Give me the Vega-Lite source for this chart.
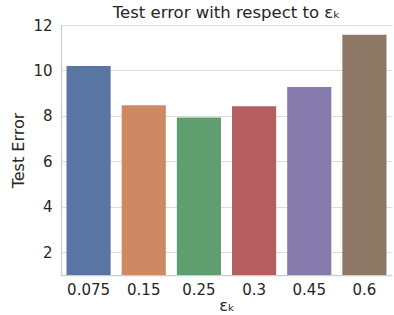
{
  "$schema": "https://vega.github.io/schema/vega-lite/v6.json",
  "autosize": {"type": "none"},
  "padding": {"left": 61, "top": 25, "right": 2, "bottom": 40},
  "width": 331,
  "height": 250,
  "background": "white",
  "title": {
    "text": "Test error with respect to εₖ",
    "font": "DejaVu Sans",
    "fontSize": 16.5,
    "fontWeight": "normal",
    "color": "#262626",
    "frame": "group",
    "offset": -3
  },
  "data": {
    "values": [
      {"eps": "0.075", "err": 10.2},
      {"eps": "0.15", "err": 8.47},
      {"eps": "0.25", "err": 7.93},
      {"eps": "0.3", "err": 8.42},
      {"eps": "0.45", "err": 9.27},
      {"eps": "0.6", "err": 11.57}
    ]
  },
  "mark": {"type": "bar", "clip": true},
  "encoding": {
    "x": {
      "field": "eps",
      "type": "nominal",
      "sort": null,
      "title": "εₖ",
      "scale": {"paddingInner": 0.2, "paddingOuter": 0.1},
      "axis": {
        "labelAngle": 0,
        "ticks": false,
        "tickSize": 0,
        "labelPadding": 7,
        "titlePadding": 0,
        "domainColor": "#cccccc",
        "domainWidth": 1.25,
        "grid": false
      }
    },
    "y": {
      "field": "err",
      "type": "quantitative",
      "title": "Test Error",
      "scale": {"domain": [1, 12], "zero": false, "nice": false},
      "axis": {
        "values": [2, 4, 6, 8, 10, 12],
        "ticks": false,
        "tickSize": 0,
        "labelPadding": 9,
        "titlePadding": 6,
        "domainColor": "#cccccc",
        "domainWidth": 1.25,
        "gridColor": "#dddddd",
        "gridWidth": 1
      }
    },
    "color": {
      "field": "eps",
      "type": "nominal",
      "sort": null,
      "legend": null,
      "scale": {"range": ["#5975a4", "#cc8963", "#5f9e6e", "#b55d60", "#857aab", "#8d7866"]}
    }
  },
  "config": {
    "view": {"stroke": null},
    "axis": {
      "labelFont": "DejaVu Sans",
      "labelFontSize": 15,
      "labelColor": "#262626",
      "titleFont": "DejaVu Sans",
      "titleFontSize": 16,
      "titleFontWeight": "normal",
      "titleColor": "#262626"
    }
  }
}
